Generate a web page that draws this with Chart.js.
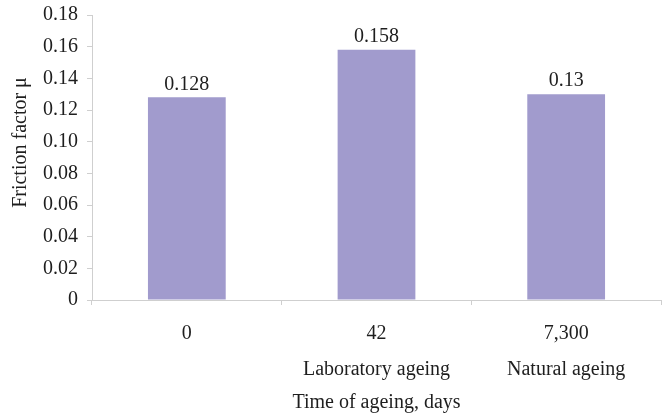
<!DOCTYPE html>
<html>
<head>
<meta charset="utf-8">
<script src="https://cdn.jsdelivr.net/npm/chart.js@4/dist/chart.umd.min.js"></script>
<style>
  html, body { margin: 0; padding: 0; background: #ffffff; }
  #wrap { width: 662px; height: 418px; }
</style>
</head>
<body>
<div id="wrap"><canvas id="c" width="662" height="418"></canvas></div>
<script>
// Ageing time (days) and the kind of ageing applied
const categories = ['0', '42', '7,300'];
const ageingTypes = ['', 'Laboratory ageing', 'Natural ageing'];
// Measured friction factor for each ageing time
const frictionValues = [0.128, 0.158, 0.13];
// Vertical axis range
const yTicks = { min: 0, max: 0.18, step: 0.02 };

const FONT = '"Liberation Serif", "Times New Roman", serif';
const FONT_SIZE = 20;
const TEXT = '#1e1e1e';
const AXIS = '#cfcfcf';

// Value captions above each bar
const valueLabels = {
  id: 'valueLabels',
  afterDatasetsDraw(chart) {
    const ctx = chart.ctx;
    const meta = chart.getDatasetMeta(0);
    ctx.save();
    ctx.font = FONT_SIZE + 'px ' + FONT;
    ctx.fillStyle = TEXT;
    ctx.textAlign = 'center';
    ctx.textBaseline = 'middle';
    meta.data.forEach((bar, i) => {
      ctx.fillText(String(frictionValues[i]), bar.x, bar.y - 13);
    });
    ctx.restore();
  }
};

new Chart(document.getElementById('c'), {
  type: 'bar',
  data: {
    labels: categories,
    datasets: [{
      data: frictionValues,
      backgroundColor: '#a19bcd',
      borderWidth: 0,
      barPercentage: 0.41,
      categoryPercentage: 1.0
    }]
  },
  options: {
    responsive: false,
    animation: false,
    devicePixelRatio: 1,
    layout: { padding: { top: 15, right: 1, bottom: 4, left: 6 } },
    plugins: {
      legend: { display: false },
      tooltip: { enabled: false }
    },
    scales: {
      x: {
        afterFit(scale) { scale.height = 114; },
        grid: {
          display: true,
          drawOnChartArea: false,
          drawTicks: true,
          tickLength: 5,
          color: AXIS
        },
        border: { display: true, color: AXIS, width: 1 },
        ticks: {
          autoSkip: false,
          maxRotation: 0,
          minRotation: 0,
          padding: 11,
          color: TEXT,
          font: { family: FONT, size: FONT_SIZE, lineHeight: '36px' },
          callback: (v, i) => [categories[i], ageingTypes[i]]
        },
        title: {
          display: true,
          text: 'Time of ageing, days',
          color: TEXT,
          font: { family: FONT, size: FONT_SIZE, lineHeight: 1 },
          padding: { top: 2, bottom: 1 }
        }
      },
      y: {
        min: yTicks.min,
        max: yTicks.max,
        afterFit(scale) {
          scale.width = 86;
          scale.paddingTop = 0;
          scale.paddingBottom = 0;
        },
        grid: {
          display: true,
          drawOnChartArea: false,
          drawTicks: true,
          tickLength: 5,
          color: AXIS
        },
        border: { display: true, color: AXIS, width: 1 },
        ticks: {
          stepSize: yTicks.step,
          padding: 9,
          color: TEXT,
          font: { family: FONT, size: FONT_SIZE },
          callback: (v) => (v === 0 ? '0' : Number(v).toFixed(2))
        },
        title: {
          display: true,
          text: '      Friction factor \u03bc',
          color: TEXT,
          font: { family: FONT, size: FONT_SIZE },
          padding: { top: 3, bottom: 4 }
        }
      }
    }
  },
  plugins: [valueLabels]
});
</script>
</body>
</html>
